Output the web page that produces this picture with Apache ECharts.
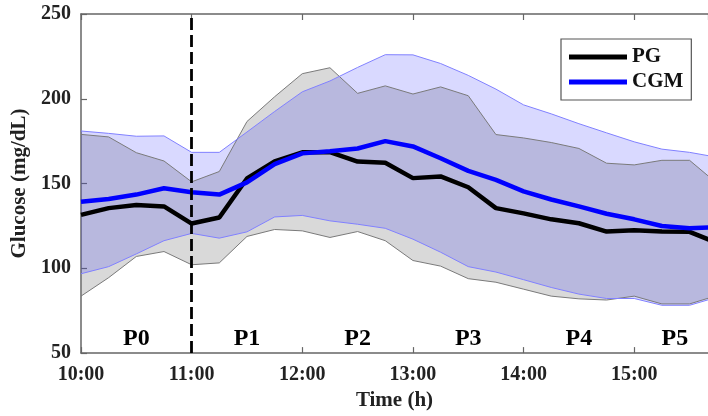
<!DOCTYPE html>
<html>
<head>
<meta charset="utf-8">
<script src="https://cdn.jsdelivr.net/npm/echarts@6/dist/echarts.min.js"></script>
<style>
html,body{margin:0;padding:0;background:#fff;}
#chart{width:708px;height:416px;}
</style>
</head>
<body>
<div id="chart"></div>
<script>
// minutes after 10:00, every 15 min
const minutes = [0,15,30,45,60,75,90,105,120,135,150,165,180,195,210,225,240,255,270,285,300,315,330,345];
const pg       = [131.5,135.5,137.3,136.5,126.4,130,153,163,168.4,168.5,163,162.3,153.2,154.2,147.8,135.5,132.4,128.9,126.6,121.7,122.5,121.7,121.5,115];
const cgm      = [139.2,140.9,143.5,147.2,144.9,143.5,150.7,161.5,167.8,169,170.7,175,171.9,164.9,157.5,152.2,145.4,140.6,136.5,132.2,128.9,125,123.6,124.3];
const pgUpper  = [179,177.5,168.2,163.3,151,157.1,186.6,201.2,214.8,218.3,203.2,207.6,202.8,207,201.8,178.9,176.9,174.2,170.7,162,161,163.7,163.7,150];
const pgLower  = [83.6,94.5,107,109.9,102.1,103.2,118.8,122.9,122.1,118.2,121.7,116.3,104.6,101.3,93.9,91.8,87.7,83.6,82,81.3,83.6,79,79,84];
const cgmUpper = [181,179.6,177.9,178.1,168.4,168.4,180.4,192.5,204.1,210.5,218.5,226,225.9,220.8,213.8,205.7,196.4,191.1,185.3,179.9,174.6,170.3,168.4,165.5];
const cgmLower = [96.8,101,108.5,116.3,120.6,117.8,121.5,130.3,131.2,128,126,123.6,117.2,109.5,101,97.8,93.3,88.7,84.8,82.2,82.2,78.2,78.2,83];
const phaseNames = ['P0','P1','P2','P3','P4','P5'];
const phaseX = [30,90,150,210,270,322];
const phaseY = 58.3;
const mealTime = 60;

const FONT = '"Liberation Serif", "DejaVu Serif", serif';
const pair = (arr) => arr.map((v,i)=>[minutes[i], v]);
const fmtTime = (v) => { const h = 10 + Math.floor(v/60); const m = v % 60; return h + ':' + (m<10?'0':'') + m; };

function bandSeries(name, upper, lower, fill, z) {
  return {
    name: name, type:'custom', z:z, silent:true, clip:true,
    data: minutes.map((m,i)=>[m, upper[i], lower[i]]),
    encode:{x:0, y:[1,2]},
    renderItem: function(params, api) {
      if (params.dataIndex !== 0) return null;
      const pts = [];
      for (let i = 0; i < minutes.length; i++) pts.push(api.coord([minutes[i], upper[i]]));
      for (let i = minutes.length - 1; i >= 0; i--) pts.push(api.coord([minutes[i], lower[i]]));
      return {type:'polygon', shape:{points:pts}, style:{fill:fill, stroke:null}};
    }
  };
}
function edgeSeries(name, arr, color, z) {
  return {name:name, type:'line', data:pair(arr), symbol:'none', silent:true,
          lineStyle:{color:color, width:1}, z:z};
}

const chart = echarts.init(document.getElementById('chart'), null, {renderer:'canvas'});
chart.setOption({
  animation:false,
  backgroundColor:'#fff',
  grid:{left:81, top:14, right:0, bottom:59, containLabel:false},
  legend:{
    data:[{name:'PG', icon:'rect'},{name:'CGM', icon:'rect'}],
    orient:'vertical',
    left:561, top:39,
    width:133,
    itemWidth:58, itemHeight:5, itemGap:3,
    padding:[7,8,7,8],
    borderColor:'#555', borderWidth:1.2,
    backgroundColor:'#fff',
    textStyle:{fontFamily:FONT, fontWeight:'bold', fontSize:21, color:'#111', lineHeight:22}
  },
  xAxis:[{
    type:'value', min:0, max:340, interval:60,
    name:'Time (h)', nameLocation:'middle', nameGap:36,
    nameTextStyle:{fontFamily:FONT, fontWeight:'bold', fontSize:21, color:'#222'},
    axisLine:{show:true, lineStyle:{color:'#666', width:1.5}},
    axisTick:{show:true, inside:true, length:6, lineStyle:{color:'#666', width:1.2}},
    axisLabel:{fontFamily:FONT, fontWeight:'bold', fontSize:20, color:'#222', margin:12, formatter:fmtTime, showMaxLabel:false},
    splitLine:{show:false}
  },{
    type:'value', min:0, max:340, interval:60, position:'top',
    axisLine:{show:true, lineStyle:{color:'#666', width:1.5}},
    axisTick:{show:true, inside:true, length:6, lineStyle:{color:'#666', width:1.2}},
    axisLabel:{show:false},
    splitLine:{show:false}
  }],
  yAxis:{
    type:'value', min:50, max:250, interval:50,
    name:'Glucose (mg/dL)', nameLocation:'middle', nameGap:48,
    nameTextStyle:{fontFamily:FONT, fontWeight:'bold', fontSize:21, color:'#222'},
    axisLine:{show:true, lineStyle:{color:'#666', width:1.5}},
    axisTick:{show:true, inside:true, length:6, lineStyle:{color:'#666', width:1.2}},
    axisLabel:{fontFamily:FONT, fontWeight:'bold', fontSize:20, color:'#222', margin:10},
    splitLine:{show:false}
  },
  series:[
    bandSeries('pgBand', pgUpper, pgLower, 'rgba(128,128,128,0.3)', 1),
    bandSeries('cgmBand', cgmUpper, cgmLower, 'rgba(0,0,255,0.15)', 1),
    edgeSeries('pgUp', pgUpper, '#7a7a7a', 2),
    edgeSeries('pgLo', pgLower, '#7a7a7a', 2),
    edgeSeries('cgmUp', cgmUpper, '#8080ff', 2),
    edgeSeries('cgmLo', cgmLower, '#8080ff', 2),
    {name:'CGM', type:'line', data:pair(cgm), symbol:'none', color:'#0000ff',
     lineStyle:{color:'#0000ff', width:4.5}, z:4},
    {name:'PG', type:'line', data:pair(pg), symbol:'none', color:'#000',
     lineStyle:{color:'#000', width:4.5}, z:3},
    {name:'meal', type:'line', data:[], symbol:'none', z:6,
     markLine:{symbol:'none', silent:true, label:{show:false},
       lineStyle:{color:'#000', width:2.8, type:[12,5]},
       data:[{xAxis:mealTime}]}},
    {name:'phases', type:'scatter', symbolSize:0, z:7, silent:true,
     itemStyle:{opacity:1},
     data:phaseNames.map((n,i)=>[phaseX[i], phaseY, n]),
     label:{show:true, position:'inside', formatter:(p)=>p.data[2], opacity:1,
       fontFamily:FONT, fontWeight:'bold', fontSize:24, color:'#000'}}
  ]
});
</script>
</body>
</html>
